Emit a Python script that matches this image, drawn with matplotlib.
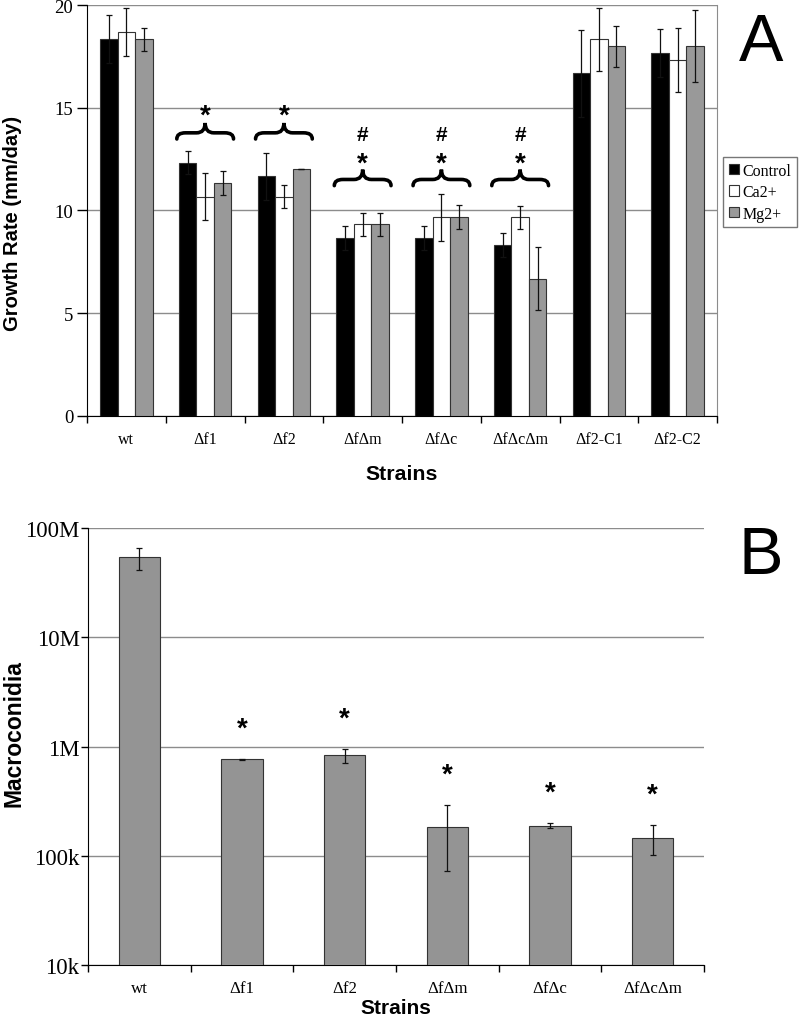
import matplotlib
matplotlib.use("Agg")
import matplotlib.pyplot as plt
import numpy as np
from matplotlib.patches import Patch, PathPatch
from matplotlib.path import Path

# ---------------- data ----------------
strains_a = ["wt", "\u0394f1", "\u0394f2", "\u0394f\u0394m", "\u0394f\u0394c",
             "\u0394f\u0394c\u0394m", "\u0394f2-C1", "\u0394f2-C2"]
series_names = ["Control", "Ca2+", "Mg2+"]
control = [18.33, 12.33, 11.67, 8.67, 8.67, 8.33, 16.67, 17.67]
control_err = [1.17, 0.57, 1.15, 0.58, 0.58, 0.58, 2.10, 1.15]
calcium = [18.67, 10.67, 10.67, 9.33, 9.67, 9.67, 18.33, 17.33]
calcium_err = [1.17, 1.15, 0.57, 0.55, 1.15, 0.57, 1.53, 1.55]
magnesium = [18.33, 11.33, 12.00, 9.33, 9.67, 6.67, 18.00, 18.00]
magnesium_err = [0.55, 0.57, 0.00, 0.55, 0.58, 1.53, 1.00, 1.77]
yticks_a = [0, 5, 10, 15, 20]

strains_b = ["wt", "\u0394f1", "\u0394f2", "\u0394f\u0394m", "\u0394f\u0394c", "\u0394f\u0394c\u0394m"]
macroconidia = [5.4e7, 7.67e5, 8.3e5, 1.83e5, 1.89e5, 1.46e5]
macroconidia_err = [1.25e7, 0.1e5, 1.2e5, 1.1e5, 0.1e5, 0.44e5]
yticks_b = [1e4, 1e5, 1e6, 1e7, 1e8]
yticklabels_b = ["10k", "100k", "1M", "10M", "100M"]

# significance annotations: group indices
sig_star_groups = [1, 2]
sig_hash_star_groups = [3, 4, 5]
sig_b_groups = [1, 2, 3, 4, 5]

SERIF = "Liberation Serif"
SANS = "Liberation Sans"
GRID = "#8c8c8c"

fig = plt.figure(figsize=(8.0, 10.2), dpi=100)

# ---------------- Panel A ----------------
axA = fig.add_axes([0.1088, 0.5912, 0.7875, 0.4029])
x = np.arange(len(strains_a))
w = 0.222
cols = ["#000000", "#ffffff", "#999999"]
vals = [control, calcium, magnesium]
errs = [control_err, calcium_err, magnesium_err]
for i in range(3):
    axA.bar(x + (i - 1) * w, vals[i], w, color=cols[i], edgecolor="#333333",
            linewidth=0.8, zorder=3)
    axA.errorbar(x + (i - 1) * w, vals[i], yerr=errs[i], fmt="none",
                 ecolor="#111111", elinewidth=0.9, capsize=2.5, capthick=0.9, zorder=4)

axA.set_xlim(-0.5, len(strains_a) - 0.5)
axA.set_ylim(0, 20)
axA.set_yticks(yticks_a)
axA.set_yticklabels([str(v) for v in yticks_a], fontfamily=SERIF, fontsize=13.5)
axA.yaxis.grid(True, color=GRID, linewidth=1.0, zorder=0)
axA.set_axisbelow(True)
axA.set_xticks(np.arange(-0.5, len(strains_a)), minor=False)
axA.set_xticklabels([])
axA.set_xticks(x, minor=True)
axA.set_xticklabels(strains_a, minor=True, fontfamily=SERIF, fontsize=11.5)
axA.tick_params(axis="x", which="minor", length=0, pad=11)
axA.tick_params(axis="x", which="major", direction="out", length=5, width=1)
axA.tick_params(axis="y", direction="out", length=7, width=1, pad=3)
axA.spines["top"].set_visible(False)
axA.spines["right"].set_color(GRID)
axA.set_ylabel("Growth Rate (mm/day)", fontfamily=SANS, fontweight="bold", fontsize=14.5)
axA.yaxis.set_label_coords(-0.103, 0.47)
axA.set_xlabel("Strains", fontfamily=SANS, fontweight="bold", fontsize=15.3, labelpad=12)


def brace(ax, c, y0, half=0.36, arm=0.3, tip=0.78, q=0.11):
    ya = y0 + arm
    yt = y0 + tip
    x0, x1 = c - half, c + half
    verts = [(x0, y0), (x0, ya), (x0 + q, ya),
             (c - q, ya), (c, ya), (c, yt),
             (c, ya), (c + q, ya),
             (x1 - q, ya), (x1, ya), (x1, y0)]
    codes = [Path.MOVETO, Path.CURVE3, Path.CURVE3,
             Path.LINETO, Path.CURVE3, Path.CURVE3,
             Path.CURVE3, Path.CURVE3,
             Path.LINETO, Path.CURVE3, Path.CURVE3]
    ax.add_patch(PathPatch(Path(verts, codes), fill=False, lw=2.6,
                           edgecolor="black", zorder=5, capstyle="round"))


for g in sig_star_groups:
    brace(axA, g, 13.48)
    axA.text(g, 14.78, "*", ha="center", va="center_baseline", fontsize=20,
             fontfamily=SANS, fontweight="bold", zorder=6)
for g in sig_hash_star_groups:
    brace(axA, g, 11.21)
    axA.text(g, 12.42, "*", ha="center", va="center_baseline", fontsize=20,
             fontfamily=SANS, fontweight="bold", zorder=6)
    axA.text(g, 13.68, "#", ha="center", va="center", fontsize=15,
             fontfamily=SANS, fontweight="bold", zorder=6)

handles = [Patch(facecolor=cols[i], edgecolor="#333333", linewidth=0.8) for i in range(3)]
leg = fig.legend(handles, series_names, loc="upper left",
                 bbox_to_anchor=(0.904, 0.845), frameon=True, fancybox=False,
                 edgecolor="#555555", handlelength=0.62, handleheight=0.62,
                 handletextpad=0.25, borderpad=0.35, labelspacing=0.35,
                 prop={"family": SERIF, "size": 11.5}, borderaxespad=0)
leg.get_frame().set_linewidth(1.0)

fig.text(0.951, 1 - 61 / 1020, "A", fontsize=48, fontfamily=SANS, ha="center", va="baseline")

# ---------------- Panel B ----------------
axB = fig.add_axes([0.11, 0.0529, 0.77, 0.4282])
xb = np.arange(len(strains_b))
axB.bar(xb, macroconidia, 0.40, color="#949494", edgecolor="#333333",
        linewidth=0.8, zorder=3)
axB.errorbar(xb, macroconidia, yerr=macroconidia_err, fmt="none", ecolor="#111111",
             elinewidth=0.9, capsize=2.5, capthick=0.9, zorder=4)
axB.set_yscale("log")
axB.set_ylim(1e4, 1e8)
axB.set_xlim(-0.5, len(strains_b) - 0.5)
axB.set_yticks(yticks_b)
axB.set_yticklabels(yticklabels_b, fontfamily=SERIF, fontsize=16.5)
axB.yaxis.set_minor_locator(matplotlib.ticker.NullLocator())
axB.yaxis.grid(True, color=GRID, linewidth=1.0, zorder=0)
axB.set_axisbelow(True)
axB.set_xticks(np.arange(-0.5, len(strains_b)), minor=False)
axB.set_xticklabels([])
axB.set_xticks(xb, minor=True)
axB.set_xticklabels(strains_b, minor=True, fontfamily=SERIF, fontsize=12.2)
axB.tick_params(axis="x", which="minor", length=0, pad=11)
axB.tick_params(axis="x", which="major", direction="out", length=5, width=1)
axB.tick_params(axis="y", direction="out", length=5, width=1, pad=1)
axB.spines["top"].set_visible(False)
axB.spines["right"].set_visible(False)
axB.set_ylabel("Macroconidia", fontfamily=SANS, fontweight="bold", fontsize=16.5)
axB.yaxis.set_label_coords(-0.102, 0.533)
axB.set_xlabel("Strains", fontfamily=SANS, fontweight="bold", fontsize=15, labelpad=1)

for g in sig_b_groups:
    top = macroconidia[g] + macroconidia_err[g]
    axB.annotate("*", (g, top), xytext=(0, 24), textcoords="offset points",
                 ha="center", va="center_baseline", fontsize=20,
                 fontfamily=SANS, fontweight="bold", zorder=6)

fig.text(0.951, 1 - 574 / 1020, "B", fontsize=48, fontfamily=SANS, ha="center", va="baseline")

fig.savefig("out.png", dpi=100)
